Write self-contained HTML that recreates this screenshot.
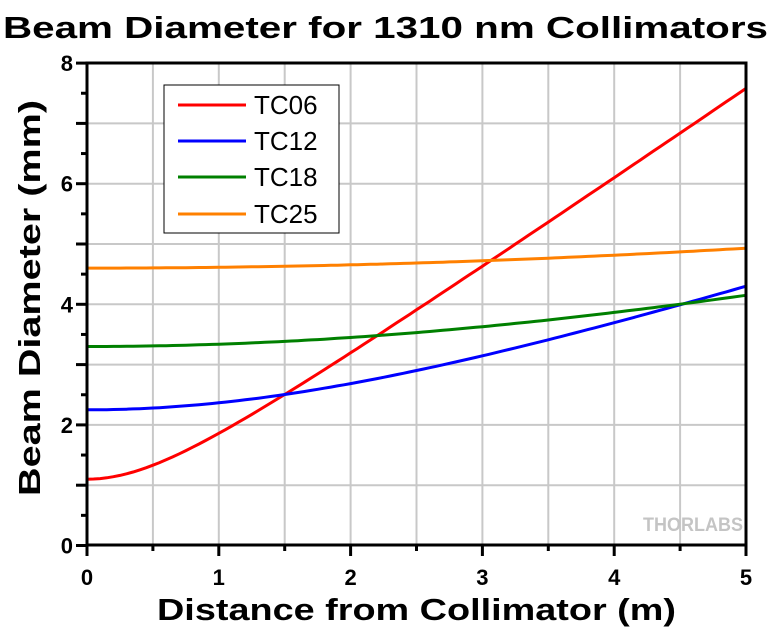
<!DOCTYPE html><html><head><style>body{margin:0;background:#fff}</style></head><body>
<svg id="s" width="780" height="632" xmlns="http://www.w3.org/2000/svg" font-family="Liberation Sans, Arial, sans-serif">
<rect width="780" height="632" fill="#fff"/>
<g id="grid" stroke="#c8c8c8" stroke-width="2"></g>
<g id="curves" fill="none" stroke-width="3"></g>
<text x="643" y="531" font-size="19" font-weight="bold" fill="#c4c4c4" textLength="100" lengthAdjust="spacingAndGlyphs">THORLABS</text>
<rect x="87" y="63" width="659" height="482" fill="none" stroke="#000" stroke-width="3"/>
<g id="ticks" stroke="#000" stroke-width="3"></g>
<g font-weight="bold" font-size="22" fill="#000" id="labels"></g>
<text x="3" y="38" font-size="31" font-weight="bold" textLength="765" lengthAdjust="spacingAndGlyphs">Beam Diameter for 1310 nm Collimators</text>
<text x="157" y="620" font-size="31" font-weight="bold" textLength="519" lengthAdjust="spacingAndGlyphs">Distance from Collimator (m)</text>
<text transform="translate(40,496) rotate(-90)" font-size="31" font-weight="bold" textLength="396" lengthAdjust="spacingAndGlyphs">Beam Diameter (mm)</text>
<rect x="164" y="85" width="175" height="148" fill="#fff" stroke="#000" stroke-width="1"/>
<g stroke-width="3">
<line x1="178" y1="105" x2="246" y2="105" stroke="#ff0000"/>
<line x1="178" y1="141" x2="246" y2="141" stroke="#0000ff"/>
<line x1="178" y1="177" x2="246" y2="177" stroke="#008000"/>
<line x1="178" y1="214" x2="246" y2="214" stroke="#ff8000"/>
</g>
<g font-size="26">
<text x="254" y="114">TC06</text><text x="254" y="150">TC12</text><text x="254" y="186">TC18</text><text x="254" y="223">TC25</text>
</g>
</svg>
<script>
var NS="http://www.w3.org/2000/svg";
function X(v){return 87+v*131.8}function Y(v){return 545.5-v*60.3}
function el(p,t,a,txt){var e=document.createElementNS(NS,t);for(var k in a)e.setAttribute(k,a[k]);if(txt!=null)e.textContent=txt;document.getElementById(p).appendChild(e);}
for(var i=1;i<10;i++)el("grid","line",{x1:X(i/2),x2:X(i/2),y1:63,y2:545});
for(var j=1;j<8;j++)el("grid","line",{x1:87,x2:746,y1:Y(j),y2:Y(j)});
for(var i=0;i<=10;i++){var L=i%2?6:11;el("ticks","line",{x1:X(i/2),x2:X(i/2),y1:545,y2:545+L});}
for(var j=0;j<=16;j++){var L=j%2?6:11;el("ticks","line",{x1:87,x2:87-L,y1:Y(j/2),y2:Y(j/2)});}
for(var i=0;i<=5;i++)el("labels","text",{x:X(i),y:585,"text-anchor":"middle"},i);
for(var j=0;j<=8;j+=2)el("labels","text",{x:73,y:Y(j)+8,"text-anchor":"end"},j);
var C=[[1.1,2.25,"#ff0000"],[2.25,0.537,"#0000ff"],[3.3,0.253,"#008000"],[4.6,0.126,"#ff8000"]];
C.forEach(function(c){var d="";for(var z=0;z<=5.0001;z+=0.05){var v=Math.sqrt(c[0]*c[0]+c[1]*z*z);d+=(z?"L":"M")+X(z).toFixed(1)+","+Y(v).toFixed(1);}el("curves","path",{d:d,stroke:c[2]});});
</script>
</body></html>
